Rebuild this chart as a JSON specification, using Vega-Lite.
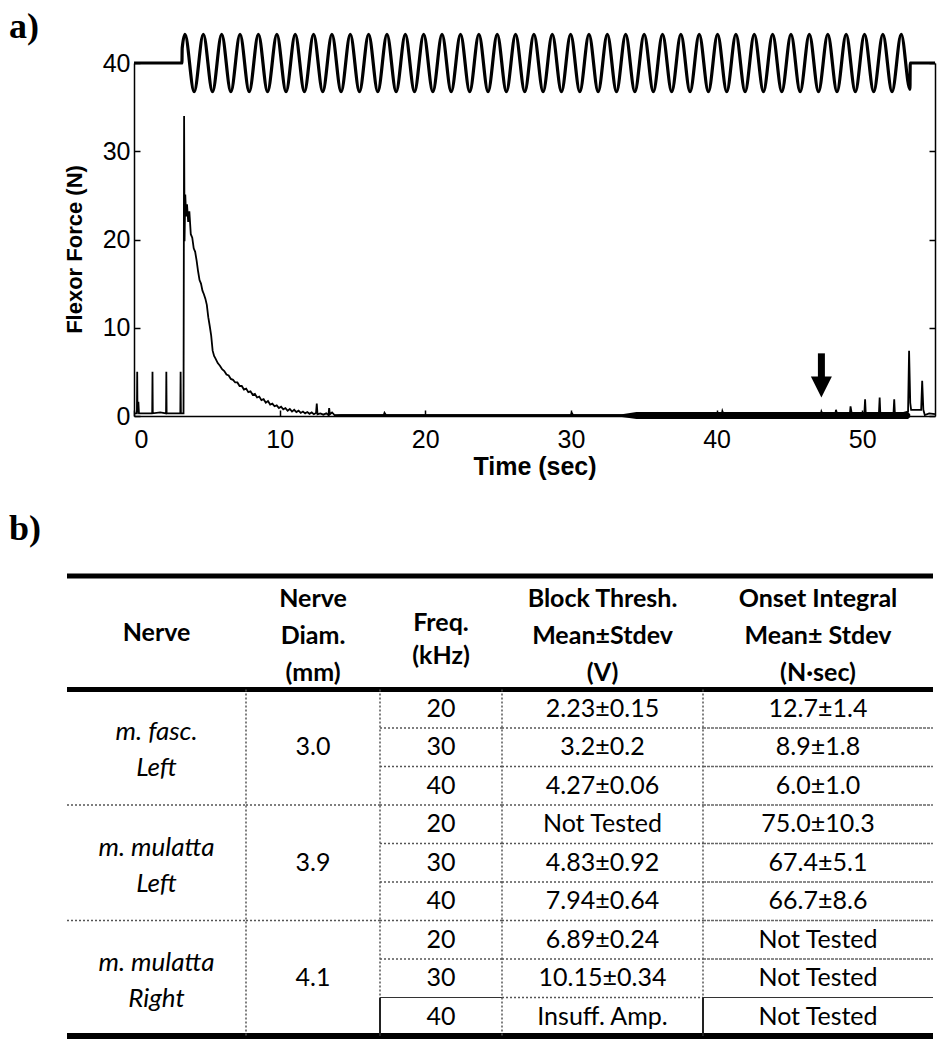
{
  "$schema": "https://vega.github.io/schema/vega-lite/v6.json",
  "background": "white",
  "padding": {"left": 9, "top": 8, "right": 5, "bottom": 5},
  "config": {"view": {"stroke": null}, "font": "Liberation Sans"},
  "datasets": {
    "stim": [
      {"t":0,"v":40},{"t":3.29,"v":40},{"t":3.31,"v":41.7},
      {"t":3.5,"v":43.25},{"t":4.13,"v":36.75},{"t":4.76,"v":43.25},{"t":5.39,"v":36.75},
      {"t":6.02,"v":43.25},{"t":6.65,"v":36.75},{"t":7.28,"v":43.25},{"t":7.91,"v":36.75},
      {"t":8.54,"v":43.25},{"t":9.17,"v":36.75},{"t":9.81,"v":43.25},{"t":10.44,"v":36.75},
      {"t":11.07,"v":43.25},{"t":11.7,"v":36.75},{"t":12.33,"v":43.25},{"t":12.96,"v":36.75},
      {"t":13.59,"v":43.25},{"t":14.22,"v":36.75},{"t":14.85,"v":43.25},{"t":15.48,"v":36.75},
      {"t":16.11,"v":43.25},{"t":16.74,"v":36.75},{"t":17.37,"v":43.25},{"t":18.0,"v":36.75},
      {"t":18.63,"v":43.25},{"t":19.26,"v":36.75},{"t":19.89,"v":43.25},{"t":20.52,"v":36.75},
      {"t":21.15,"v":43.25},{"t":21.78,"v":36.75},{"t":22.42,"v":43.25},{"t":23.05,"v":36.75},
      {"t":23.68,"v":43.25},{"t":24.31,"v":36.75},{"t":24.94,"v":43.25},{"t":25.57,"v":36.75},
      {"t":26.2,"v":43.25},{"t":26.83,"v":36.75},{"t":27.46,"v":43.25},{"t":28.09,"v":36.75},
      {"t":28.72,"v":43.25},{"t":29.35,"v":36.75},{"t":29.98,"v":43.25},{"t":30.61,"v":36.75},
      {"t":31.24,"v":43.25},{"t":31.87,"v":36.75},{"t":32.5,"v":43.25},{"t":33.13,"v":36.75},
      {"t":33.76,"v":43.25},{"t":34.39,"v":36.75},{"t":35.03,"v":43.25},{"t":35.66,"v":36.75},
      {"t":36.29,"v":43.25},{"t":36.92,"v":36.75},{"t":37.55,"v":43.25},{"t":38.18,"v":36.75},
      {"t":38.81,"v":43.25},{"t":39.44,"v":36.75},{"t":40.07,"v":43.25},{"t":40.7,"v":36.75},
      {"t":41.33,"v":43.25},{"t":41.96,"v":36.75},{"t":42.59,"v":43.25},{"t":43.22,"v":36.75},
      {"t":43.85,"v":43.25},{"t":44.48,"v":36.75},{"t":45.11,"v":43.25},{"t":45.74,"v":36.75},
      {"t":46.37,"v":43.25},{"t":47.0,"v":36.75},{"t":47.64,"v":43.25},{"t":48.27,"v":36.75},
      {"t":48.9,"v":43.25},{"t":49.53,"v":36.75},{"t":50.16,"v":43.25},{"t":50.79,"v":36.75},
      {"t":51.42,"v":43.25},{"t":52.05,"v":36.75},{"t":52.68,"v":43.25},{"t":53.28,"v":37.0},
      {"t":53.3,"v":40},{"t":55,"v":40}
    ],
    "force": [
      {"t":0,"f":0.3},{"t":0.2,"f":0.3},{"t":0.22,"f":5.0},{"t":0.24,"f":0.4},{"t":0.3,"f":1.6},{"t":0.34,"f":0.3},
      {"t":0.8,"f":0.3},{"t":1.25,"f":0.3},{"t":1.27,"f":5.0},{"t":1.29,"f":0.3},{"t":1.8,"f":0.4},
      {"t":2.2,"f":0.3},{"t":2.22,"f":5.0},{"t":2.24,"f":0.3},{"t":2.8,"f":0.3},{"t":3.18,"f":0.3},
      {"t":3.2,"f":5.0},{"t":3.22,"f":0.3},{"t":3.4,"f":0.3},{"t":3.44,"f":34.0},{"t":3.47,"f":19.8},
      {"t":3.52,"f":25.1},{"t":3.58,"f":22.6},{"t":3.64,"f":24.0},{"t":3.72,"f":22.0},{"t":3.8,"f":23.2},
      {"t":3.9,"f":20.6},{"t":4.0,"f":20.2},{"t":4.1,"f":19.0},{"t":4.2,"f":18.6},{"t":4.3,"f":17.6},
      {"t":4.4,"f":16.4},{"t":4.5,"f":15.4},{"t":4.6,"f":15.0},{"t":4.7,"f":14.2},{"t":4.8,"f":13.8},
      {"t":4.9,"f":13.3},{"t":5.0,"f":12.6},{"t":5.1,"f":11.2},{"t":5.2,"f":10.2},{"t":5.3,"f":9.1},
      {"t":5.4,"f":7.4},{"t":5.5,"f":6.8},{"t":5.6,"f":6.5},{"t":5.75,"f":6.0},{"t":5.9,"f":5.7},
      {"t":6.05,"f":5.3},{"t":6.2,"f":5.1},{"t":6.35,"f":4.7},{"t":6.5,"f":4.6},{"t":6.65,"f":4.2},
      {"t":6.8,"f":4.1},{"t":6.95,"f":3.8},{"t":7.1,"f":3.8},{"t":7.25,"f":3.4},{"t":7.4,"f":3.4},
      {"t":7.55,"f":3.0},{"t":7.7,"f":3.1},{"t":7.85,"f":2.7},{"t":8.0,"f":2.8},{"t":8.15,"f":2.4},
      {"t":8.3,"f":2.5},{"t":8.45,"f":2.1},{"t":8.6,"f":2.2},{"t":8.75,"f":1.8},{"t":8.9,"f":1.9},
      {"t":9.05,"f":1.5},{"t":9.2,"f":1.7},{"t":9.35,"f":1.3},{"t":9.5,"f":1.4},{"t":9.65,"f":1.1},
      {"t":9.8,"f":1.2},{"t":9.95,"f":0.9},{"t":10.1,"f":1.05},{"t":10.25,"f":0.75},{"t":10.4,"f":0.9},
      {"t":10.55,"f":0.6},{"t":10.7,"f":0.8},{"t":10.85,"f":0.5},{"t":11.0,"f":0.7},{"t":11.15,"f":0.45},
      {"t":11.3,"f":0.6},{"t":11.45,"f":0.35},{"t":11.6,"f":0.5},{"t":11.75,"f":0.3},{"t":11.9,"f":0.45},
      {"t":12.05,"f":0.25},{"t":12.2,"f":0.4},{"t":12.35,"f":0.2},{"t":12.5,"f":0.35},{"t":12.55,"f":1.4},
      {"t":12.6,"f":0.2},{"t":12.8,"f":0.3},{"t":13.0,"f":0.15},{"t":13.2,"f":0.3},{"t":13.35,"f":0.1},
      {"t":13.4,"f":0.9},{"t":13.45,"f":0.2},{"t":13.6,"f":0.4},{"t":13.8,"f":0.05},
      {"t":14.2,"f":0.1},{"t":17.15,"f":0.1},{"t":17.2,"f":0.35},{"t":17.3,"f":0.1},
      {"t":30.0,"f":0.1},{"t":30.05,"f":0.35},{"t":30.15,"f":0.1},
      {"t":40.35,"f":0.1},{"t":40.4,"f":0.55},{"t":40.5,"f":0.1},
      {"t":47.15,"f":0.1},{"t":47.2,"f":0.5},{"t":47.3,"f":0.1},
      {"t":48.15,"f":0.1},{"t":48.2,"f":0.7},{"t":48.3,"f":0.1},
      {"t":49.15,"f":0.1},{"t":49.2,"f":1.1},{"t":49.3,"f":0.1},
      {"t":50.15,"f":0.3},{"t":50.2,"f":1.9},{"t":50.25,"f":0.1},
      {"t":51.15,"f":0.3},{"t":51.2,"f":2.1},{"t":51.25,"f":0.1},
      {"t":52.15,"f":0.3},{"t":52.2,"f":1.9},{"t":52.25,"f":0.1},
      {"t":53.15,"f":0.5},{"t":53.22,"f":7.4},{"t":53.3,"f":1.5},{"t":53.36,"f":0.7},{"t":53.7,"f":0.7},
      {"t":54.05,"f":0.7},{"t":54.12,"f":4.0},{"t":54.2,"f":0.7},{"t":54.3,"f":0.1},{"t":54.6,"f":0.3},{"t":55,"f":0.2}
    ],
    "envelope": [
      {"t":13.8,"lo":-0.1,"hi":0.2},{"t":33.5,"lo":-0.1,"hi":0.2},{"t":34.5,"lo":-0.35,"hi":0.45},
      {"t":53.15,"lo":-0.35,"hi":0.45},{"t":53.3,"lo":-0.1,"hi":0.2}
    ],
    "table": [
      {"col":"nerve","part":"head","r":-1.475,"t":"Nerve"},
      {"col":"diam","part":"head","r":-1.475,"t":["Nerve","Diam.","(mm)"]},
      {"col":"freq","part":"head","r":-1.475,"t":["Freq.","(kHz)"]},
      {"col":"block","part":"head","r":-1.475,"t":["Block Thresh.","Mean±Stdev","(V)"]},
      {"col":"onset","part":"head","r":-1.475,"t":["Onset Integral","Mean± Stdev","(N·sec)"]},
      {"col":"nerve","part":"body","r":1.5,"t":["m. fasc.","Left"]},
      {"col":"nerve","part":"body","r":4.5,"t":["m. mulatta","Left"]},
      {"col":"nerve","part":"body","r":7.5,"t":["m. mulatta","Right"]},
      {"col":"diam","part":"body","r":1.5,"t":"3.0"},
      {"col":"diam","part":"body","r":4.5,"t":"3.9"},
      {"col":"diam","part":"body","r":7.5,"t":"4.1"},
      {"col":"freq","part":"body","r":0.5,"t":"20"},
      {"col":"freq","part":"body","r":1.5,"t":"30"},
      {"col":"freq","part":"body","r":2.5,"t":"40"},
      {"col":"freq","part":"body","r":3.5,"t":"20"},
      {"col":"freq","part":"body","r":4.5,"t":"30"},
      {"col":"freq","part":"body","r":5.5,"t":"40"},
      {"col":"freq","part":"body","r":6.5,"t":"20"},
      {"col":"freq","part":"body","r":7.5,"t":"30"},
      {"col":"freq","part":"body","r":8.5,"t":"40"},
      {"col":"block","part":"body","r":0.5,"t":"2.23±0.15"},
      {"col":"block","part":"body","r":1.5,"t":"3.2±0.2"},
      {"col":"block","part":"body","r":2.5,"t":"4.27±0.06"},
      {"col":"block","part":"body","r":3.5,"t":"Not Tested"},
      {"col":"block","part":"body","r":4.5,"t":"4.83±0.92"},
      {"col":"block","part":"body","r":5.5,"t":"7.94±0.64"},
      {"col":"block","part":"body","r":6.5,"t":"6.89±0.24"},
      {"col":"block","part":"body","r":7.5,"t":"10.15±0.34"},
      {"col":"block","part":"body","r":8.5,"t":"Insuff. Amp."},
      {"col":"onset","part":"body","r":0.5,"t":"12.7±1.4"},
      {"col":"onset","part":"body","r":1.5,"t":"8.9±1.8"},
      {"col":"onset","part":"body","r":2.5,"t":"6.0±1.0"},
      {"col":"onset","part":"body","r":3.5,"t":"75.0±10.3"},
      {"col":"onset","part":"body","r":4.5,"t":"67.4±5.1"},
      {"col":"onset","part":"body","r":5.5,"t":"66.7±8.6"},
      {"col":"onset","part":"body","r":6.5,"t":"Not Tested"},
      {"col":"onset","part":"body","r":7.5,"t":"Not Tested"},
      {"col":"onset","part":"body","r":8.5,"t":"Not Tested"}
    ]
  },
  "spacing": 31,
  "vconcat": [
    {
      "title": {"text": "a)", "anchor": "start", "frame": "group", "dx": -58, "dy": 18, "offset": 0, "font": "Liberation Serif", "fontSize": 36, "fontWeight": "bold", "color": "black"},
      "spacing": 0,
      "bounds": "flush",
      "hconcat": [
        {"width": 67, "height": 10, "data": {"values": []}, "mark": {"type": "point", "opacity": 0}, "encoding": {}},
        {
          "width": 801,
          "height": 353,
          "encoding": {
            "x": {"field": "t", "type": "quantitative", "scale": {"domain": [0, 55], "nice": false, "zero": false},
              "axis": {"values": [0, 10, 20, 30, 40, 50], "title": "Time (sec)", "titleFont": "Liberation Sans", "titleFontSize": 25, "titleFontWeight": "bold", "titleColor": "black", "titlePadding": 2,
                "labelFont": "Liberation Sans", "labelFontSize": 25, "labelColor": "black", "labelPadding": 17, "tickSize": -6, "tickColor": "black", "tickWidth": 1.5, "domainColor": "black", "domainWidth": 1.5, "grid": false}}
          },
          "layer": [
            {"data": {"name": "envelope"}, "mark": {"type": "area", "color": "black", "opacity": 1},
              "encoding": {"y": {"field": "lo", "type": "quantitative", "scale": {"domain": [0, 40], "nice": false, "zero": false}, "axis": null}, "y2": {"field": "hi"}}},
            {"data": {"name": "stim"}, "mark": {"type": "line", "interpolate": "monotone", "color": "black", "strokeWidth": 3.2},
              "encoding": {"y": {"field": "v", "type": "quantitative", "scale": {"domain": [0, 40], "nice": false, "zero": false},
                "axis": {"orient": "left", "values": [0, 10, 20, 30, 40], "title": "Flexor Force (N)", "titleFont": "Liberation Sans", "titleFontSize": 22, "titleFontWeight": "bold", "titleColor": "black", "titlePadding": 16, "titleY": 186,
                  "labelFont": "Liberation Sans", "labelFontSize": 25, "labelColor": "black", "labelPadding": 10, "tickSize": -6, "tickColor": "black", "tickWidth": 1.5, "domainColor": "black", "domainWidth": 1.5, "grid": false}}}},
            {"data": {"name": "force"}, "mark": {"type": "line", "color": "black", "strokeWidth": 1.8},
              "encoding": {"y": {"field": "f", "type": "quantitative",
                "axis": {"orient": "right", "values": [0, 10, 20, 30, 40], "title": null, "labels": false, "tickSize": -6, "tickColor": "black", "tickWidth": 1.5, "domainColor": "black", "domainWidth": 1.5, "grid": false}}}},
            {"data": {"values": [{"t": 47.2, "top": 7.1, "base": 3.9, "tip": 3.3}]}, "mark": {"type": "rule", "color": "black", "strokeWidth": 7, "strokeCap": "butt"},
              "encoding": {"y": {"field": "top", "type": "quantitative", "axis": null}, "y2": {"field": "base"}}},
            {"data": {"values": [{"t": 47.2, "top": 7.1, "base": 3.9, "tip": 3.3}]}, "mark": {"type": "point", "shape": "M-1,-1L1,-1L0,1Z", "size": 441, "filled": true, "color": "black", "opacity": 1, "strokeWidth": 0},
              "encoding": {"y": {"field": "tip", "type": "quantitative", "axis": null}}}
          ],
          "resolve": {"axis": {"y": "independent"}}
        }
      ]
    },
    {
      "title": {"text": "b)", "anchor": "start", "frame": "group", "dx": -58, "offset": 26, "font": "Liberation Serif", "fontSize": 36, "fontWeight": "bold", "color": "black"},
      "spacing": 0,
      "bounds": "flush",
      "hconcat": [
        {
          "width": 179, "height": 460,
          "layer": [
            {"data": {"values": [{"b": -2.95}, {"b": 0}]}, "mark": {"type": "rule", "color": "black", "strokeWidth": 5, "strokeCap": "butt"},
              "encoding": {"x": {"datum": 0, "type": "quantitative", "scale": {"domain": [0, 1], "nice": false, "zero": false}, "axis": null}, "x2": {"datum": 1},
                "y": {"field": "b", "type": "quantitative", "scale": {"domain": [-2.95, 9], "reverse": true, "nice": false, "zero": false}, "axis": null}}},
            {"data": {"values": [{"b": 9}]}, "mark": {"type": "rule", "color": "black", "strokeWidth": 6, "strokeCap": "butt"},
              "encoding": {"x": {"datum": 0, "type": "quantitative"}, "x2": {"datum": 1}, "y": {"field": "b", "type": "quantitative"}}},
            {"data": {"values": [{"b": 3}, {"b": 6}]}, "mark": {"type": "rule", "color": "#555", "strokeWidth": 1.5, "strokeDash": [2, 2]},
              "encoding": {"x": {"datum": 0, "type": "quantitative"}, "x2": {"datum": 1}, "y": {"field": "b", "type": "quantitative"}}},
            {"data": {"name": "table"}, "transform": [{"filter": "datum.col === 'nerve' && datum.part === 'head'"}],
              "mark": {"type": "text", "font": "Lato", "fontSize": 25, "fontWeight": "bold", "baseline": "middle", "color": "black"},
              "encoding": {"x": {"datum": 0.5, "type": "quantitative"}, "y": {"field": "r", "type": "quantitative"}, "text": {"field": "t"}}},
            {"data": {"name": "table"}, "transform": [{"filter": "datum.col === 'nerve' && datum.part === 'body'"}],
              "mark": {"type": "text", "font": "Lato", "fontSize": 26, "fontStyle": "italic", "lineHeight": 36, "dy": -15, "baseline": "middle", "color": "black"},
              "encoding": {"x": {"datum": 0.5, "type": "quantitative"}, "y": {"field": "r", "type": "quantitative"}, "text": {"field": "t"}}}
          ]
        },
        {
          "width": 134, "height": 460,
          "layer": [
            {"data": {"values": [{"b": -2.95}, {"b": 0}]}, "mark": {"type": "rule", "color": "black", "strokeWidth": 5, "strokeCap": "butt"},
              "encoding": {"x": {"datum": 0, "type": "quantitative", "scale": {"domain": [0, 1], "nice": false, "zero": false}, "axis": null}, "x2": {"datum": 1},
                "y": {"field": "b", "type": "quantitative", "scale": {"domain": [-2.95, 9], "reverse": true, "nice": false, "zero": false}, "axis": null}}},
            {"data": {"values": [{"b": 9}]}, "mark": {"type": "rule", "color": "black", "strokeWidth": 6, "strokeCap": "butt"},
              "encoding": {"x": {"datum": 0, "type": "quantitative"}, "x2": {"datum": 1}, "y": {"field": "b", "type": "quantitative"}}},
            {"data": {"values": [{"b": 3}, {"b": 6}]}, "mark": {"type": "rule", "color": "#555", "strokeWidth": 1.5, "strokeDash": [2, 2]},
              "encoding": {"x": {"datum": 0, "type": "quantitative"}, "x2": {"datum": 1}, "y": {"field": "b", "type": "quantitative"}}},
            {"data": {"values": [{"b0": 0, "b1": 9}]}, "mark": {"type": "rule", "color": "#555", "strokeWidth": 1.5, "strokeDash": [2, 2]},
              "encoding": {"x": {"datum": 0, "type": "quantitative"}, "y": {"field": "b0", "type": "quantitative"}, "y2": {"field": "b1"}}},
            {"data": {"name": "table"}, "transform": [{"filter": "datum.col === 'diam' && datum.part === 'head'"}],
              "mark": {"type": "text", "font": "Lato", "fontSize": 25, "fontWeight": "bold", "lineHeight": 37, "dy": -34, "baseline": "middle", "color": "black"},
              "encoding": {"x": {"datum": 0.5, "type": "quantitative"}, "y": {"field": "r", "type": "quantitative"}, "text": {"field": "t"}}},
            {"data": {"name": "table"}, "transform": [{"filter": "datum.col === 'diam' && datum.part === 'body'"}],
              "mark": {"type": "text", "font": "Lato", "fontSize": 25, "baseline": "middle", "color": "black"},
              "encoding": {"x": {"datum": 0.5, "type": "quantitative"}, "y": {"field": "r", "type": "quantitative"}, "text": {"field": "t"}}}
          ]
        },
        {
          "width": 122, "height": 460,
          "layer": [
            {"data": {"values": [{"b": -2.95}, {"b": 0}]}, "mark": {"type": "rule", "color": "black", "strokeWidth": 5, "strokeCap": "butt"},
              "encoding": {"x": {"datum": 0, "type": "quantitative", "scale": {"domain": [0, 1], "nice": false, "zero": false}, "axis": null}, "x2": {"datum": 1},
                "y": {"field": "b", "type": "quantitative", "scale": {"domain": [-2.95, 9], "reverse": true, "nice": false, "zero": false}, "axis": null}}},
            {"data": {"values": [{"b": 9}]}, "mark": {"type": "rule", "color": "black", "strokeWidth": 6, "strokeCap": "butt"},
              "encoding": {"x": {"datum": 0, "type": "quantitative"}, "x2": {"datum": 1}, "y": {"field": "b", "type": "quantitative"}}},
            {"data": {"values": [{"b": 1}, {"b": 2}, {"b": 3}, {"b": 4}, {"b": 5}, {"b": 6}, {"b": 7}]}, "mark": {"type": "rule", "color": "#555", "strokeWidth": 1.5, "strokeDash": [2, 2]},
              "encoding": {"x": {"datum": 0, "type": "quantitative"}, "x2": {"datum": 1}, "y": {"field": "b", "type": "quantitative"}}},
            {"data": {"values": [{"b": 8}]}, "mark": {"type": "rule", "color": "#333", "strokeWidth": 1.2},
              "encoding": {"x": {"datum": 0, "type": "quantitative"}, "x2": {"datum": 1}, "y": {"field": "b", "type": "quantitative"}}},
            {"data": {"values": [{"b0": 0, "b1": 8}]}, "mark": {"type": "rule", "color": "#555", "strokeWidth": 1.5, "strokeDash": [2, 2]},
              "encoding": {"x": {"datum": 0, "type": "quantitative"}, "y": {"field": "b0", "type": "quantitative"}, "y2": {"field": "b1"}}},
            {"data": {"values": [{"b0": 8, "b1": 9}]}, "mark": {"type": "rule", "color": "#222", "strokeWidth": 2},
              "encoding": {"x": {"datum": 0, "type": "quantitative"}, "y": {"field": "b0", "type": "quantitative"}, "y2": {"field": "b1"}}},
            {"data": {"name": "table"}, "transform": [{"filter": "datum.col === 'freq' && datum.part === 'head'"}],
              "mark": {"type": "text", "font": "Lato", "fontSize": 25, "fontWeight": "bold", "lineHeight": 33, "dy": -10, "baseline": "middle", "color": "black"},
              "encoding": {"x": {"datum": 0.5, "type": "quantitative"}, "y": {"field": "r", "type": "quantitative"}, "text": {"field": "t"}}},
            {"data": {"name": "table"}, "transform": [{"filter": "datum.col === 'freq' && datum.part === 'body'"}],
              "mark": {"type": "text", "font": "Lato", "fontSize": 25, "baseline": "middle", "color": "black"},
              "encoding": {"x": {"datum": 0.5, "type": "quantitative"}, "y": {"field": "r", "type": "quantitative"}, "text": {"field": "t"}}}
          ]
        },
        {
          "width": 201, "height": 460,
          "layer": [
            {"data": {"values": [{"b": -2.95}, {"b": 0}]}, "mark": {"type": "rule", "color": "black", "strokeWidth": 5, "strokeCap": "butt"},
              "encoding": {"x": {"datum": 0, "type": "quantitative", "scale": {"domain": [0, 1], "nice": false, "zero": false}, "axis": null}, "x2": {"datum": 1},
                "y": {"field": "b", "type": "quantitative", "scale": {"domain": [-2.95, 9], "reverse": true, "nice": false, "zero": false}, "axis": null}}},
            {"data": {"values": [{"b": 9}]}, "mark": {"type": "rule", "color": "black", "strokeWidth": 6, "strokeCap": "butt"},
              "encoding": {"x": {"datum": 0, "type": "quantitative"}, "x2": {"datum": 1}, "y": {"field": "b", "type": "quantitative"}}},
            {"data": {"values": [{"b": 1}, {"b": 2}, {"b": 3}, {"b": 4}, {"b": 5}, {"b": 6}, {"b": 7}, {"b": 8}]}, "mark": {"type": "rule", "color": "#555", "strokeWidth": 1.5, "strokeDash": [2, 2]},
              "encoding": {"x": {"datum": 0, "type": "quantitative"}, "x2": {"datum": 1}, "y": {"field": "b", "type": "quantitative"}}},
            {"data": {"values": [{"b0": 0, "b1": 9}]}, "mark": {"type": "rule", "color": "#555", "strokeWidth": 1.5, "strokeDash": [2, 2]},
              "encoding": {"x": {"datum": 0, "type": "quantitative"}, "y": {"field": "b0", "type": "quantitative"}, "y2": {"field": "b1"}}},
            {"data": {"name": "table"}, "transform": [{"filter": "datum.col === 'block' && datum.part === 'head'"}],
              "mark": {"type": "text", "font": "Lato", "fontSize": 25, "fontWeight": "bold", "lineHeight": 37, "dy": -34, "baseline": "middle", "color": "black"},
              "encoding": {"x": {"datum": 0.5, "type": "quantitative"}, "y": {"field": "r", "type": "quantitative"}, "text": {"field": "t"}}},
            {"data": {"name": "table"}, "transform": [{"filter": "datum.col === 'block' && datum.part === 'body'"}],
              "mark": {"type": "text", "font": "Lato", "fontSize": 25, "baseline": "middle", "color": "black"},
              "encoding": {"x": {"datum": 0.5, "type": "quantitative"}, "y": {"field": "r", "type": "quantitative"}, "text": {"field": "t"}}}
          ]
        },
        {
          "width": 230, "height": 460,
          "layer": [
            {"data": {"values": [{"b": -2.95}, {"b": 0}]}, "mark": {"type": "rule", "color": "black", "strokeWidth": 5, "strokeCap": "butt"},
              "encoding": {"x": {"datum": 0, "type": "quantitative", "scale": {"domain": [0, 1], "nice": false, "zero": false}, "axis": null}, "x2": {"datum": 1},
                "y": {"field": "b", "type": "quantitative", "scale": {"domain": [-2.95, 9], "reverse": true, "nice": false, "zero": false}, "axis": null}}},
            {"data": {"values": [{"b": 9}]}, "mark": {"type": "rule", "color": "black", "strokeWidth": 6, "strokeCap": "butt"},
              "encoding": {"x": {"datum": 0, "type": "quantitative"}, "x2": {"datum": 1}, "y": {"field": "b", "type": "quantitative"}}},
            {"data": {"values": [{"b": 1}, {"b": 2}, {"b": 3}, {"b": 4}, {"b": 5}, {"b": 6}, {"b": 7}]}, "mark": {"type": "rule", "color": "#666", "strokeWidth": 1.5, "strokeDash": [3, 1]},
              "encoding": {"x": {"datum": 0, "type": "quantitative"}, "x2": {"datum": 1}, "y": {"field": "b", "type": "quantitative"}}},
            {"data": {"values": [{"b": 8}]}, "mark": {"type": "rule", "color": "#333", "strokeWidth": 1.2},
              "encoding": {"x": {"datum": 0, "type": "quantitative"}, "x2": {"datum": 1}, "y": {"field": "b", "type": "quantitative"}}},
            {"data": {"values": [{"b0": 0, "b1": 8}]}, "mark": {"type": "rule", "color": "#555", "strokeWidth": 1.5, "strokeDash": [2, 2]},
              "encoding": {"x": {"datum": 0, "type": "quantitative"}, "y": {"field": "b0", "type": "quantitative"}, "y2": {"field": "b1"}}},
            {"data": {"values": [{"b0": 8, "b1": 9}]}, "mark": {"type": "rule", "color": "#222", "strokeWidth": 2},
              "encoding": {"x": {"datum": 0, "type": "quantitative"}, "y": {"field": "b0", "type": "quantitative"}, "y2": {"field": "b1"}}},
            {"data": {"name": "table"}, "transform": [{"filter": "datum.col === 'onset' && datum.part === 'head'"}],
              "mark": {"type": "text", "font": "Lato", "fontSize": 25, "fontWeight": "bold", "lineHeight": 37, "dy": -34, "baseline": "middle", "color": "black"},
              "encoding": {"x": {"datum": 0.5, "type": "quantitative"}, "y": {"field": "r", "type": "quantitative"}, "text": {"field": "t"}}},
            {"data": {"name": "table"}, "transform": [{"filter": "datum.col === 'onset' && datum.part === 'body'"}],
              "mark": {"type": "text", "font": "Lato", "fontSize": 25, "baseline": "middle", "color": "black"},
              "encoding": {"x": {"datum": 0.5, "type": "quantitative"}, "y": {"field": "r", "type": "quantitative"}, "text": {"field": "t"}}}
          ]
        }
      ]
    }
  ]
}
